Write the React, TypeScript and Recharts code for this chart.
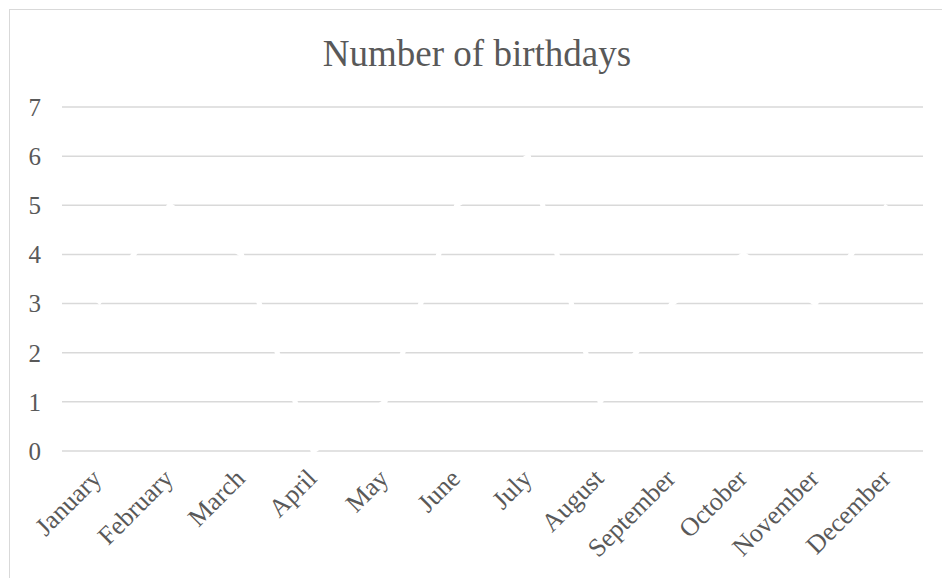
import React from 'react';
import { LineChart, Line, XAxis, YAxis, CartesianGrid } from 'recharts';

const months = ['January', 'February', 'March', 'April', 'May', 'June', 'July', 'August', 'September', 'October', 'November', 'December'];
const birthdays = [3, 5, 4, 0, 1, 5, 6, 1, 3, 4, 3, 5];
const yTicks = [0, 1, 2, 3, 4, 5, 6, 7];

const data = months.map((m, i) => ({ month: m, count: birthdays[i] }));

const FONT = '"Liberation Serif", serif';
const TEXT = '#595959';

const XTick = (props: any) => {
  const { x, y, payload } = props;
  const ax = x + 5;
  const ay = y;
  return (
    <text x={ax} y={ay} transform={`rotate(-45, ${ax}, ${ay})`} textAnchor="end" fill={TEXT} fontSize={26} fontFamily={FONT}>
      {payload.value}
    </text>
  );
};

export default function App() {
  return (
    <div style={{ position: 'absolute', left: 9, top: 9, width: 960, height: 600, border: '1px solid #d9d9d9', background: '#fff', fontFamily: FONT }}>
      <div style={{ position: 'absolute', left: 0, top: 25, width: 934, textAlign: 'center', fontSize: 37, lineHeight: '37px', color: TEXT, fontFamily: FONT }}>
        Number of birthdays
      </div>
      <LineChart width={958} height={598} data={data} margin={{ top: 97, right: 45, bottom: 127, left: 12 }}>
        <CartesianGrid vertical={false} stroke="#d9d9d9" strokeWidth={1.5} />
        <XAxis
          dataKey="month"
          axisLine={false}
          tickLine={false}
          tickSize={0}
          tickMargin={29}
          height={30}
          interval={0}
          padding={{ left: 35.9, right: 35.9 }}
          tick={<XTick />}
        />
        <YAxis
          domain={[0, 7]}
          ticks={yTicks}
          axisLine={false}
          tickLine={false}
          tickSize={0}
          tickMargin={21}
          width={40}
          tick={{ fill: TEXT, fontSize: 25, fontFamily: FONT }}
        />
        <Line type="linear" dataKey="count" stroke="#ffffff" strokeWidth={5} dot={false} isAnimationActive={false} />
      </LineChart>
    </div>
  );
}
